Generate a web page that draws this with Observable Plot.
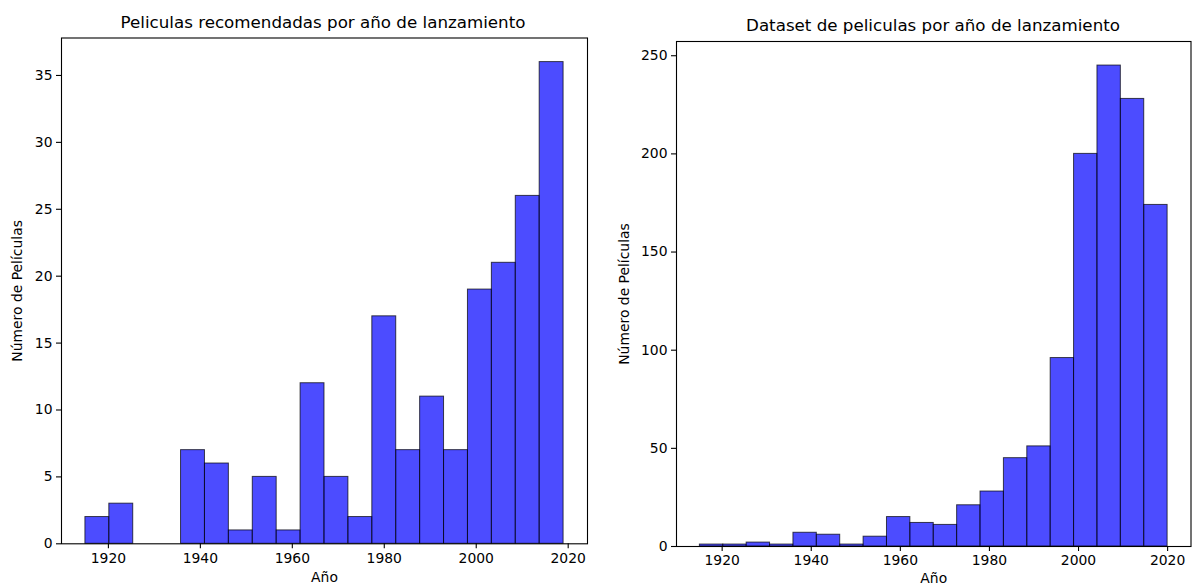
<!DOCTYPE html>
<html>
<head>
<meta charset="utf-8">
<script src="https://cdn.jsdelivr.net/npm/d3@7"></script>
<script src="https://cdn.jsdelivr.net/npm/@observablehq/plot@0.6"></script>
<style>
  html, body { margin: 0; padding: 0; background: #fff; }
  #wrap { position: relative; width: 1192px; height: 586px; overflow: hidden; font-family: "DejaVu Sans", sans-serif; }
  .panel { position: absolute; top: 0; }
  .title { position: absolute; font-size: 16.7px; color: #000; white-space: nowrap; transform: translateX(-50%); line-height: 1; }
</style>
</head>
<body>
<div id="wrap">
  <div class="title" id="t1"></div>
  <div class="title" id="t2"></div>
  <div class="panel" id="p1" style="left:0px"></div>
  <div class="panel" id="p2" style="left:596px"></div>
</div>
<script>
// ---- Data ----
const titleLeft = "Peliculas recomendadas por año de lanzamiento";
const titleRight = "Dataset de peliculas por año de lanzamiento";
const xLabel = "Año";
const yLabel = "Número de Películas";

// Left histogram: 20 bins between min and max release year
const leftMinYear = 1915;
const leftMaxYear = 2019;
const leftCounts = [2, 3, 0, 0, 7, 6, 1, 5, 1, 12, 5, 2, 17, 7, 11, 7, 19, 21, 26, 36];

// Right histogram: 20 bins between min and max release year
const rightMinYear = 1915;
const rightMaxYear = 2020;
const rightCounts = [1, 1, 2, 1, 7, 6, 1, 5, 15, 12, 11, 21, 28, 45, 51, 96, 200, 245, 228, 174];

const xTicks = [1920, 1940, 1960, 1980, 2000, 2020];
const yTicksLeft = [0, 5, 10, 15, 20, 25, 30, 35];
const yTicksRight = [0, 50, 100, 150, 200, 250];

function toBins(lo, hi, counts) {
  const n = counts.length, w = (hi - lo) / n;
  return counts.map((c, i) => ({x1: lo + i * w, x2: lo + (i + 1) * w, count: c}));
}

function histogram(opts) {
  const bins = toBins(opts.lo, opts.hi, opts.counts);
  const span = opts.hi - opts.lo;
  const ymax = d3.max(opts.counts) * 1.05;
  return Plot.plot({
    width: 596,
    height: 586,
    marginLeft: opts.ml,
    marginRight: opts.mr,
    marginTop: opts.mt,
    marginBottom: opts.mb,
    x: {domain: [opts.lo - span * 0.05, opts.hi + span * 0.05]},
    y: {domain: [0, ymax]},
    style: {fontFamily: "DejaVu Sans", fontSize: "13.9px", color: "#000", background: "transparent", overflow: "visible"},
    marks: [
      Plot.rectY(bins, {x1: "x1", x2: "x2", y: "count", fill: "blue", fillOpacity: 0.7, stroke: "black", strokeOpacity: 0.7, strokeWidth: 1}),
      Plot.frame({stroke: "black", strokeWidth: 1.1}),
      Plot.axisX({ticks: xTicks, tickFormat: "d", tickSize: 5, tickPadding: 4, strokeWidth: 1.1,
                  label: xLabel, labelAnchor: "center", labelArrow: "none", labelOffset: opts.xlo}),
      Plot.axisY({ticks: opts.yTicks, tickSize: 5, tickPadding: 4, strokeWidth: 1.1,
                  label: yLabel, labelAnchor: "center", labelArrow: "none", labelOffset: opts.ylo})
    ]
  });
}

document.getElementById("p1").appendChild(histogram({
  lo: leftMinYear, hi: leftMaxYear, counts: leftCounts, yTicks: yTicksLeft,
  ml: 61, mr: 9, mt: 37.5, mb: 42.7, xlo: 38.5, ylo: 49
}));
document.getElementById("p2").appendChild(histogram({
  lo: rightMinYear, hi: rightMaxYear, counts: rightCounts, yTicks: yTicksRight,
  ml: 80, mr: 1.5, mt: 41, mb: 40, xlo: 36, ylo: 57
}));

const t1 = document.getElementById("t1");
t1.textContent = titleLeft;
t1.style.left = "323px"; t1.style.top = "14px";
const t2 = document.getElementById("t2");
t2.textContent = titleRight;
t2.style.left = "933px"; t2.style.top = "17px";
</script>
</body>
</html>
